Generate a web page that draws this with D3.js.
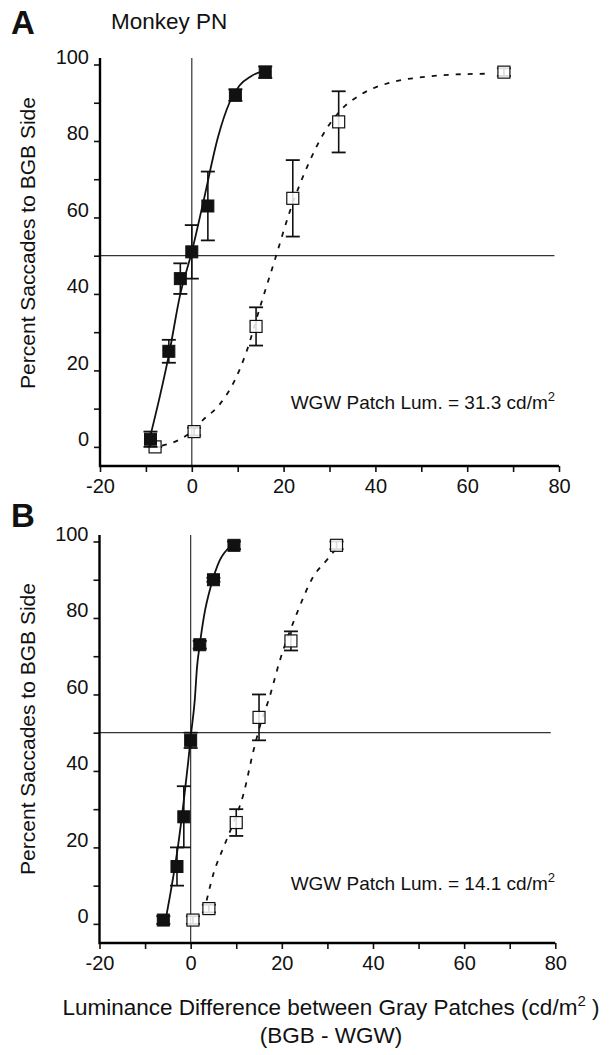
<!DOCTYPE html>
<html>
<head>
<meta charset="utf-8">
<script src="https://cdn.jsdelivr.net/npm/d3@7"></script>
<style>
  body { margin: 0; background: #fff; }
  svg { display: block; font-family: "Liberation Sans", Arial, Helvetica, sans-serif; }
</style>
</head>
<body>
<div class="chart"></div>
<script>
// ---- data ----
const xTicks = [-20, -10, 0, 10, 20, 30, 40, 50, 60, 70, 80]
const yTicks = [0, 10, 20, 30, 40, 50, 60, 70, 80, 90, 100]

// panel A (WGW 31.3 cd/m2)
const aFilledX = [-9, -5, -2.5, 0, 3.5, 9.5, 16]
const aFilledY = [2, 25, 44, 51, 63, 92, 98]
const aFilledErr = [2, 3, 4, 7, 9, 1.5, 1.5]
const aOpenX = [-8, 0.5, 14, 22, 32, 68]
const aOpenY = [0, 4, 31.5, 65, 85, 98]
const aOpenErr = [0, 1, 5, 10, 8, 1]
const aFitSolidX = [-9, -7, -5, -2.5, 0, 2.5, 5.7, 8.2, 10.4, 13, 16]
const aFitSolidY = [3, 13, 24, 40, 51, 64, 81, 90, 94.5, 97, 98.5]
const aFitDashX = [-6.5, -2.7, 0, 2.4, 6, 9.6, 11.8, 15.1, 18.3, 21.2, 25.6, 28.5, 32.1, 37.2, 43, 50.2, 57.5, 65.1]
const aFitDashY = [0.3, 1.9, 4, 7, 11, 18, 24.5, 37.5, 49.7, 61, 74.5, 81.5, 87.6, 92.4, 95.2, 96.7, 97.4, 97.6]

// panel B (WGW 14.1 cd/m2)
const bFilledX = [-6, -3, -1.5, 0, 2, 5, 9.5]
const bFilledY = [1, 15, 28, 48, 73, 90, 99]
const bFilledErr = [1, 5, 8, 2, 1, 0.5, 1]
const bOpenX = [0.5, 4, 10, 15, 22, 32]
const bOpenY = [1, 4, 26.5, 54, 74, 99]
const bOpenErr = [1, 1, 3.5, 6, 2.5, 1]
const bFitSolidX = [-5.4, -4.2, -2.7, -1.5, -0.5, 0.1, 0.9, 1.4, 2.0, 2.9, 4.6, 6.4, 8.6]
const bFitSolidY = [1.7, 9.6, 21, 32.3, 42.8, 49.8, 58.5, 67.2, 73, 80.3, 89, 95.1, 98.6]
const bFitDashX = [3.5, 5, 7.2, 9, 11.6, 13.8, 15.6, 17.1, 19.6, 23.3, 26.9, 29.9, 31.7]
const bFitDashY = [6.1, 13.1, 20, 25.3, 34, 45.4, 53.3, 58.5, 69, 81.2, 90.8, 95.2, 97.8]

const zip = (xs, ys, es) => xs.map((x, i) => ({ x, y: ys[i], e: es ? es[i] : 0 }))

const panels = [
  {
    letter: "A", letterY: 34,
    xRange: [100, 559], yRange: [466, 58],
    lum: "31.3", lumY: 409,
    labelY: 243,
    filled: zip(aFilledX, aFilledY, aFilledErr),
    open: zip(aOpenX, aOpenY, aOpenErr),
    fitSolid: zip(aFitSolidX, aFitSolidY),
    fitDash: zip(aFitDashX, aFitDashY),
  },
  {
    letter: "B", letterY: 527,
    xRange: [99.5, 555.3], yRange: [943, 535],
    lum: "14.1", lumY: 890,
    labelY: 729,
    filled: zip(bFilledX, bFilledY, bFilledErr),
    open: zip(bOpenX, bOpenY, bOpenErr),
    fitSolid: zip(bFitSolidX, bFitSolidY),
    fitDash: zip(bFitDashX, bFitDashY),
  },
]

const svg = d3.select(".chart").append("svg")
  .attr("width", 614)
  .attr("height", 1055)

const ink = "#111"
const frames = []

function drawPanel(p) {
  const g = svg.append("g")
  const x = d3.scaleLinear().domain([-20, 80]).range(p.xRange)
  const y = d3.scaleLinear().domain([-5, 101.7]).range(p.yRange)

  // reference lines: x = 0 and 50 %
  g.append("line")
    .attr("x1", x(0)).attr("x2", x(0))
    .attr("y1", y(101.7)).attr("y2", y(-5))
    .attr("stroke", "#333").attr("stroke-width", 1.2)
  g.append("line")
    .attr("x1", x(-20)).attr("x2", x(79))
    .attr("y1", y(50)).attr("y2", y(50))
    .attr("stroke", "#333").attr("stroke-width", 1.2)

  // axes
  const xAxis = g.append("g")
    .attr("transform", `translate(0,${y(-5)})`)
    .call(d3.axisBottom(x).tickValues(xTicks).tickSize(6).tickSizeOuter(0)
      .tickFormat((d) => (d % 20 === 0 ? String(d) : "")))
  const yAxis = g.append("g")
    .attr("transform", `translate(${x(-20)},0)`)
    .call(d3.axisLeft(y).tickValues(yTicks).tickSize(6).tickSizeOuter(0)
      .tickFormat((d) => (d % 20 === 0 ? String(d) : "")))

  ;[xAxis, yAxis].forEach((a) => {
    a.select(".domain").remove()
    a.selectAll(".tick line").attr("stroke", ink).attr("stroke-width", 1.6)
    a.selectAll("text").attr("fill", ink).attr("font-size", 20)
      .attr("font-family", '"Liberation Sans", Arial, sans-serif')
  })
  xAxis.selectAll("text").attr("y", 13)
  yAxis.selectAll("text").attr("dy", "-0.05em").attr("x", -11)

  // fitted curves
  const line = d3.line()
    .x((d) => x(d.x)).y((d) => y(d.y))
    .curve(d3.curveMonotoneX)
  g.append("path").datum(p.fitSolid)
    .attr("d", line).attr("fill", "none")
    .attr("stroke", ink).attr("stroke-width", 1.8)
  g.append("path").datum(p.fitDash)
    .attr("d", line).attr("fill", "none")
    .attr("stroke", ink).attr("stroke-width", 1.8)
    .attr("stroke-dasharray", "5,7")

  // error bars + markers
  const s = 12
  const drawSet = (data, filled) => {
    const grp = g.append("g").selectAll("g").data(data).join("g")
    grp.append("line")
      .attr("x1", (d) => x(d.x)).attr("x2", (d) => x(d.x))
      .attr("y1", (d) => y(d.y - d.e)).attr("y2", (d) => y(d.y + d.e))
      .attr("stroke", ink).attr("stroke-width", 1.6)
    ;[-1, 1].forEach((sign) => {
      grp.append("line")
        .attr("x1", (d) => x(d.x) - 7).attr("x2", (d) => x(d.x) + 7)
        .attr("y1", (d) => y(d.y + sign * d.e)).attr("y2", (d) => y(d.y + sign * d.e))
        .attr("stroke", ink).attr("stroke-width", 1.8)
    })
    grp.append("rect")
      .attr("x", (d) => x(d.x) - s / 2).attr("y", (d) => y(d.y) - s / 2)
      .attr("width", s).attr("height", s)
      .attr("fill", filled ? ink : "#fff")
      .attr("fill-opacity", filled ? 1 : 0.85)
      .attr("stroke", ink).attr("stroke-width", filled ? 1 : 1.2)
  }
  drawSet(p.open, false)
  drawSet(p.filled, true)

  // y label
  g.append("text")
    .attr("transform", `translate(35,${p.labelY}) rotate(-90)`)
    .attr("text-anchor", "middle")
    .attr("font-size", 21).attr("fill", ink)
    .text("Percent Saccades to BGB Side")

  // panel letter
  g.append("text")
    .attr("x", 11).attr("y", p.letterY)
    .attr("font-size", 33).attr("font-weight", "bold").attr("fill", ink)
    .text(p.letter)

  // luminance note
  const t = g.append("text")
    .attr("x", 555).attr("y", p.lumY)
    .attr("text-anchor", "end")
    .attr("font-size", 19).attr("fill", ink)
  t.append("tspan").text(`WGW Patch Lum. = ${p.lum} cd/m`)
  t.append("tspan").attr("font-size", 13).attr("dy", -8).text("2")

  // axis frame (y axis + x axis) as one polyline, drawn on top later
  frames.push([[x(-20), y(101.7)], [x(-20), y(-5)], [x(80), y(-5)]])
}

panels.forEach(drawPanel)

svg.append("g").selectAll("path").data(frames).join("path")
  .attr("d", (d) => d3.line()(d))
  .attr("fill", "none")
  .attr("stroke", "black")
  .attr("stroke-width", 2.4)
  .attr("stroke-linejoin", "miter")

// titles
svg.append("text")
  .attr("x", 111).attr("y", 29)
  .attr("font-size", 22.5).attr("fill", ink)
  .text("Monkey PN")

const xl = svg.append("text")
  .attr("x", 331).attr("y", 1015)
  .attr("text-anchor", "middle")
  .attr("font-size", 22.5).attr("fill", ink)
xl.append("tspan").text("Luminance Difference between Gray Patches (cd/m")
xl.append("tspan").attr("font-size", 15).attr("dy", -9).text("2")
xl.append("tspan").attr("dy", 9).text(" )")

svg.append("text")
  .attr("x", 331).attr("y", 1043)
  .attr("text-anchor", "middle")
  .attr("font-size", 22.5).attr("fill", ink)
  .text("(BGB - WGW)")
</script>
</body>
</html>
